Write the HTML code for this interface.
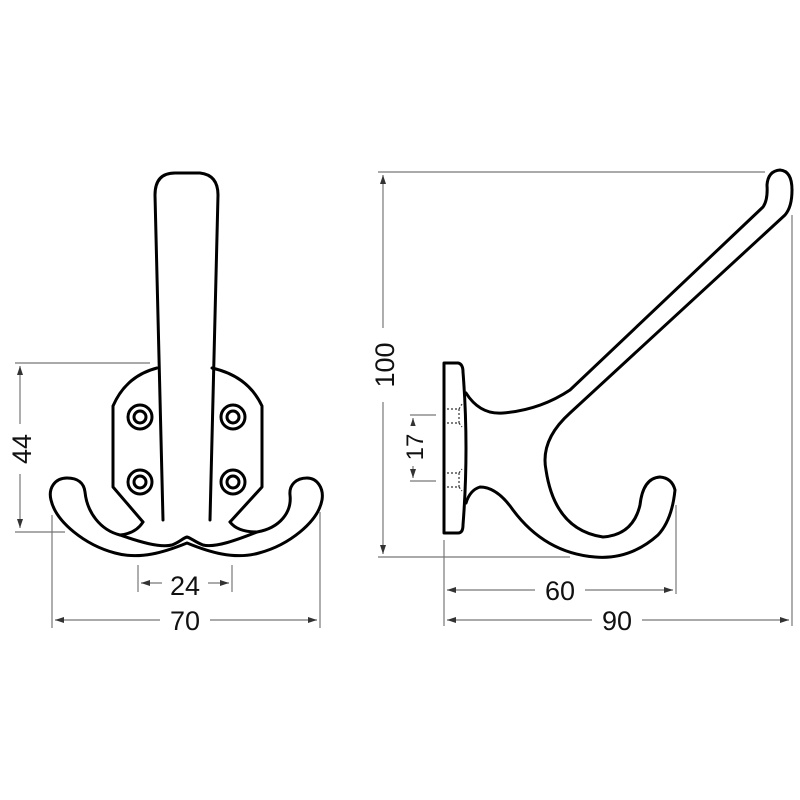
<!DOCTYPE html>
<html><head><meta charset="utf-8"><style>
html,body{margin:0;padding:0;background:#fff;}
svg{display:block;}
text{font-family:"Liberation Sans",sans-serif;fill:#111;}
</style></head><body>
<svg width="800" height="800" viewBox="0 0 800 800" xmlns="http://www.w3.org/2000/svg">
<defs>
<marker id="a" markerWidth="10" markerHeight="8" refX="9" refY="4" orient="auto-start-reverse" markerUnits="userSpaceOnUse">
<path d="M0,1 L9,4 L0,7 Z" fill="#333"/></marker>
</defs>
<g stroke="#777" stroke-width="1.2" fill="none">
<line x1="15" y1="363" x2="150" y2="363"/>
<line x1="15" y1="532" x2="65" y2="532"/>
<line x1="20" y1="366" x2="20" y2="528" marker-start="url(#a)" marker-end="url(#a)"/>
<line x1="138" y1="565" x2="138" y2="592"/>
<line x1="232" y1="565" x2="232" y2="592"/>
<line x1="141" y1="583" x2="229" y2="583" marker-start="url(#a)" marker-end="url(#a)"/>
<line x1="52" y1="515" x2="52" y2="628"/>
<line x1="320" y1="512" x2="320" y2="628"/>
<line x1="55" y1="620" x2="317" y2="620" marker-start="url(#a)" marker-end="url(#a)"/>
<line x1="378" y1="172" x2="765" y2="172"/>
<line x1="378" y1="557" x2="570" y2="557"/>
<line x1="383" y1="175" x2="383" y2="554" marker-start="url(#a)" marker-end="url(#a)"/>
<line x1="410" y1="415" x2="436" y2="415"/>
<line x1="410" y1="481" x2="436" y2="481"/>
<line x1="413" y1="418" x2="413" y2="478" marker-start="url(#a)" marker-end="url(#a)"/>
<line x1="444" y1="540" x2="444" y2="626"/>
<line x1="676" y1="505" x2="676" y2="594"/>
<line x1="792" y1="215" x2="792" y2="626"/>
<line x1="447" y1="590" x2="673" y2="590" marker-start="url(#a)" marker-end="url(#a)"/>
<line x1="447" y1="620" x2="789" y2="620" marker-start="url(#a)" marker-end="url(#a)"/>
</g>
<g fill="#fff" stroke="none">
<rect x="6" y="424" width="30" height="50"/>
<rect x="162" y="571" width="46" height="28"/>
<rect x="160" y="606" width="50" height="30"/>
<rect x="368" y="328" width="32" height="74"/>
<rect x="403" y="426" width="20" height="40"/>
<rect x="535" y="576" width="50" height="30"/>
<rect x="592" y="606" width="50" height="30"/>
</g>
<g font-size="27">
<text x="31" y="449" text-anchor="middle" transform="rotate(-90 31 449)">44</text>
<text x="185" y="595" text-anchor="middle">24</text>
<text x="185" y="630" text-anchor="middle">70</text>
<text x="394" y="365" text-anchor="middle" transform="rotate(-90 394 365)">100</text>
<text x="560" y="600" text-anchor="middle">60</text>
<text x="617" y="630" text-anchor="middle">90</text>
</g>
<text x="423" y="447" font-size="24" text-anchor="middle" transform="rotate(-90 423 447)">17</text>

<g stroke="#000" stroke-width="3" fill="none" stroke-linejoin="round" stroke-linecap="round">
<path d="M157,368 Q126,376 113,406 L113,487 L143,522"/>
<path d="M212,368 Q248,376 262,406 L262,487 L230,522"/>
<path d="M163,520 L155,195 Q155,173 175,173 L200,173 Q218,175 218,195 L210,520"/>
<path d="M67,478 C55,478 48,488 51,500 C56,522 85,545 115,553 C140,560 165,552 187,543 C209,552 234,560 259,553 C289,545 318,522 322,500 C324,488 317,478 307,478 C296,478 289,485 290,495 C292,512 280,528 257,532"/>
<path d="M67,478 C78,478 84,483 85,492 C87,512 100,530 120,535"/>
<path d="M120,535 C140,542 160,548 172,545 C180,542 183,538 187,537 C191,538 195,542 203,545 C215,548 237,540 257,532"/>
<path d="M143,522 C138,530 130,534 120,535"/>
<path d="M230,522 C236,530 246,532 257,532"/>
<circle cx="140" cy="417" r="12"/><circle cx="140" cy="417" r="6"/>
<circle cx="140" cy="482" r="12"/><circle cx="140" cy="482" r="6"/>
<circle cx="233" cy="417" r="12"/><circle cx="233" cy="417" r="6"/>
<circle cx="233" cy="482" r="12"/><circle cx="233" cy="482" r="6"/>

<path d="M444,363 L458,363 Q463,364 463,372 Q469,448 463,525 Q463,533 458,533 L444,533 Z"/>
<path d="M466,393 Q480,415 503,413 Q540,410 570,390 L763,207 Q768,200 767,185 Q768,171 780,170 Q792,171 792,190 Q792,207 785,215 L570,413 Q540,440 546,470 Q555,530 603,537 Q633,535 640,505 Q643,478 660,477 Q672,478 675,490 Q672,520 658,535 Q630,560 595,557 Q545,553 513,510 Q497,487 480,487 Q470,490 466,503"/>
</g>
<g stroke="#333" stroke-width="1.2" fill="none" stroke-dasharray="2,2">
<path d="M447,409 L459,409 L462,404 M447,423 L459,423 L462,427 M459,409 L459,423"/>
<path d="M447,473 L459,473 L462,469 M447,487 L459,487 L462,491 M459,473 L459,487"/>
</g>
</svg>
</body></html>
